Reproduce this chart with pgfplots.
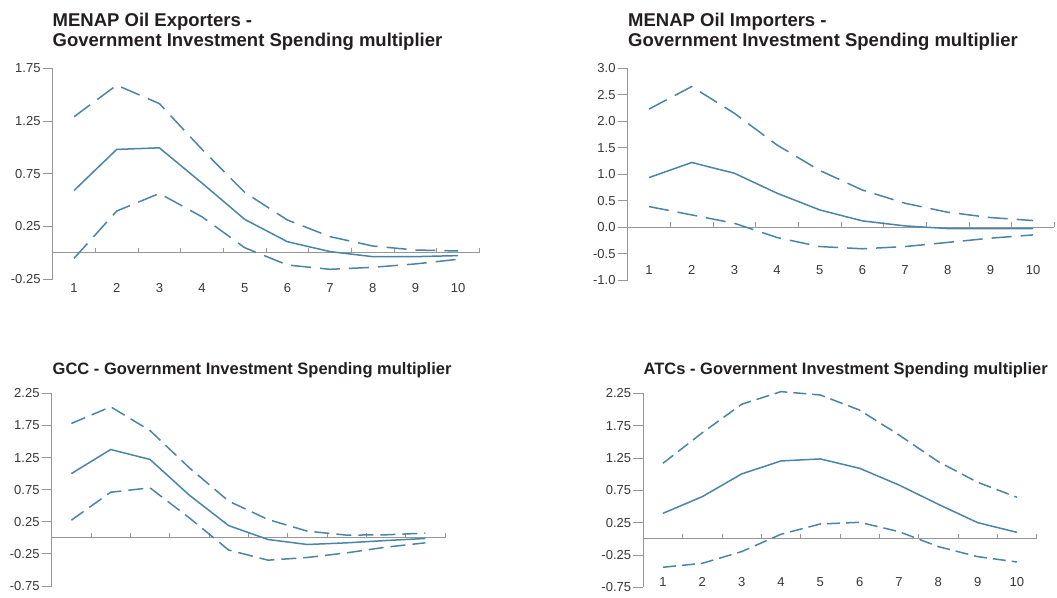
\documentclass[border=0pt]{standalone}
\usepackage{fontspec}
\setmainfont{Liberation Sans}
\usepackage{pgfplots}
\pgfplotsset{compat=1.18}
\definecolor{lineblue}{RGB}{74,132,166}
\definecolor{axisgray}{RGB}{150,150,150}
\definecolor{titleblack}{RGB}{35,31,32}
\definecolor{ticktext}{RGB}{55,55,55}
\pgfplotsset{
  panel/.style={
    scale only axis, clip=false,
    xmin=0.5, xmax=10.5,
    axis x line=none,
    axis y line*=left,
    y axis line style={axisgray, line width=0.9pt},
    ytick pos=left, tick align=outside, major tick length=10pt,
    every tick/.style={axisgray, line width=0.9pt},
    yticklabel style={font=\fontsize{13}{13}\selectfont, text=ticktext, inner xsep=2pt},
    anchor=south west,
  },
  ser/.style={lineblue, line width=1.5pt, no marks},
}
\newcommand{\xaxisline}{%
  \draw[axisgray, line width=0.9pt] (axis cs:0.5,0) -- (axis cs:10.5,0);
  \pgfplotsinvokeforeach{0.5,1.5,2.5,3.5,4.5,5.5,6.5,7.5,8.5,9.5,10.5}{%
    \draw[axisgray, line width=0.9pt] (axis cs:##1,0) -- ([yshift=5pt]axis cs:##1,0);}%
}
\newcommand{\xlabels}[1]{%
  \pgfplotsinvokeforeach{1,2,3,4,5,6,7,8,9,10}{%
    \node[font=\fontsize{13}{13}\selectfont, text=ticktext, inner sep=0pt] at (axis cs:##1,#1) {##1};}%
}
\begin{document}
\begin{tikzpicture}
\useasboundingbox (0,0) rectangle (1057pt,597pt);
\tikzset{ttl/.style={anchor=base west, inner sep=0pt, text=titleblack, font=\fontsize{18.5}{20}\selectfont\bfseries},
         ttlb/.style={anchor=base west, inner sep=0pt, text=titleblack, font=\fontsize{16.5}{18}\selectfont\bfseries}}
% titles
\node[ttl] at (52.5pt,570pt) {MENAP Oil Exporters -};
\node[ttl] at (52.5pt,550pt) {Government Investment Spending multiplier};
\node[ttl] at (628pt,570pt) {MENAP Oil Importers -};
\node[ttl] at (628pt,550pt) {Government Investment Spending multiplier};
\node[ttlb] at (52.5pt,222pt) {GCC - Government Investment Spending multiplier};
\node[ttlb] at (643.5pt,222pt) {ATCs - Government Investment Spending multiplier};

% Panel 1
\begin{axis}[panel, at={(52.7pt,318pt)}, width=426.7pt, height=210.7pt,
  ymin=-0.25, ymax=1.75, ytick={-0.25,0.25,0.75,1.25,1.75},
  yticklabels={-0.25,0.25,0.75,1.25,1.75}]
\xaxisline
\xlabels{-0.335}
\addplot[ser] coordinates {(1,0.59)(2,0.98)(3,0.995)(4,0.66)(5,0.316)(6,0.104)(7,0.01)(8,-0.038)(9,-0.038)(10,-0.028)};
\addplot[ser, dash pattern=on 20pt off 9pt] coordinates {(1,1.29)(2,1.59)(3,1.415)(4,0.98)(5,0.572)(6,0.31)(7,0.152)(8,0.063)(9,0.025)(10,0.016)};
\addplot[ser, dash pattern=on 20pt off 9pt] coordinates {(1,-0.054)(2,0.395)(3,0.562)(4,0.34)(5,0.047)(6,-0.117)(7,-0.158)(8,-0.139)(9,-0.107)(10,-0.063)};
\end{axis}

% Panel 2
\begin{axis}[panel, at={(627.7pt,317pt)}, width=426.7pt, height=211.7pt,
  ymin=-1, ymax=3, ytick={-1,-0.5,0,0.5,1,1.5,2,2.5,3},
  yticklabels={-1.0,-0.5,0.0,0.5,1.0,1.5,2.0,2.5,3.0}]
\xaxisline
\xlabels{-0.81}
\addplot[ser] coordinates {(1,0.935)(2,1.22)(3,1.017)(4,0.64)(5,0.324)(6,0.117)(7,0.022)(8,-0.028)(9,-0.028)(10,-0.028)};
\addplot[ser, dash pattern=on 20pt off 9pt] coordinates {(1,2.23)(2,2.655)(3,2.15)(4,1.55)(5,1.07)(6,0.70)(7,0.45)(8,0.28)(9,0.18)(10,0.123)};
\addplot[ser, dash pattern=on 20pt off 9pt] coordinates {(1,0.387)(2,0.23)(3,0.072)(4,-0.198)(5,-0.368)(6,-0.41)(7,-0.368)(8,-0.29)(9,-0.21)(10,-0.148)};
\end{axis}

% Panel 3
\begin{axis}[panel, at={(51.7pt,11pt)}, width=393.3pt, height=192.7pt,
  ymin=-0.75, ymax=2.25, ytick={-0.75,-0.25,0.25,0.75,1.25,1.75,2.25},
  yticklabels={-0.75,-0.25,0.25,0.75,1.25,1.75,2.25}]
\xaxisline
\addplot[ser] coordinates {(1,1.0)(2,1.375)(3,1.22)(4,0.664)(5,0.19)(6,-0.026)(7,-0.104)(8,-0.078)(9,-0.042)(10,-0.01)};
\addplot[ser, dash pattern=on 15pt off 7pt] coordinates {(1,1.78)(2,2.04)(3,1.67)(4,1.09)(5,0.571)(6,0.285)(7,0.104)(8,0.042)(9,0.047)(10,0.073)};
\addplot[ser, dash pattern=on 15pt off 7pt] coordinates {(1,0.275)(2,0.71)(3,0.778)(4,0.31)(5,-0.19)(6,-0.348)(7,-0.306)(8,-0.234)(9,-0.145)(10,-0.078)};
\end{axis}

% Panel 4
\begin{axis}[panel, at={(643.3pt,9.7pt)}, width=393.3pt, height=194pt,
  ymin=-0.75, ymax=2.25, ytick={-0.75,-0.25,0.25,0.75,1.25,1.75,2.25},
  yticklabels={-0.75,-0.25,0.25,0.75,1.25,1.75,2.25}]
\xaxisline
\xlabels{-0.663}
\addplot[ser] coordinates {(1,0.394)(2,0.652)(3,1.003)(4,1.204)(5,1.235)(6,1.09)(7,0.832)(8,0.534)(9,0.25)(10,0.1)};
\addplot[ser, dash pattern=on 13pt off 6pt] coordinates {(1,1.168)(2,1.64)(3,2.08)(4,2.276)(5,2.224)(6,1.99)(7,1.606)(8,1.193)(9,0.874)(10,0.642)};
\addplot[ser, dash pattern=on 13pt off 6pt] coordinates {(1,-0.44)(2,-0.379)(3,-0.198)(4,0.07)(5,0.229)(6,0.255)(7,0.111)(8,-0.121)(9,-0.276)(10,-0.358)};
\end{axis}
\end{tikzpicture}
\end{document}
